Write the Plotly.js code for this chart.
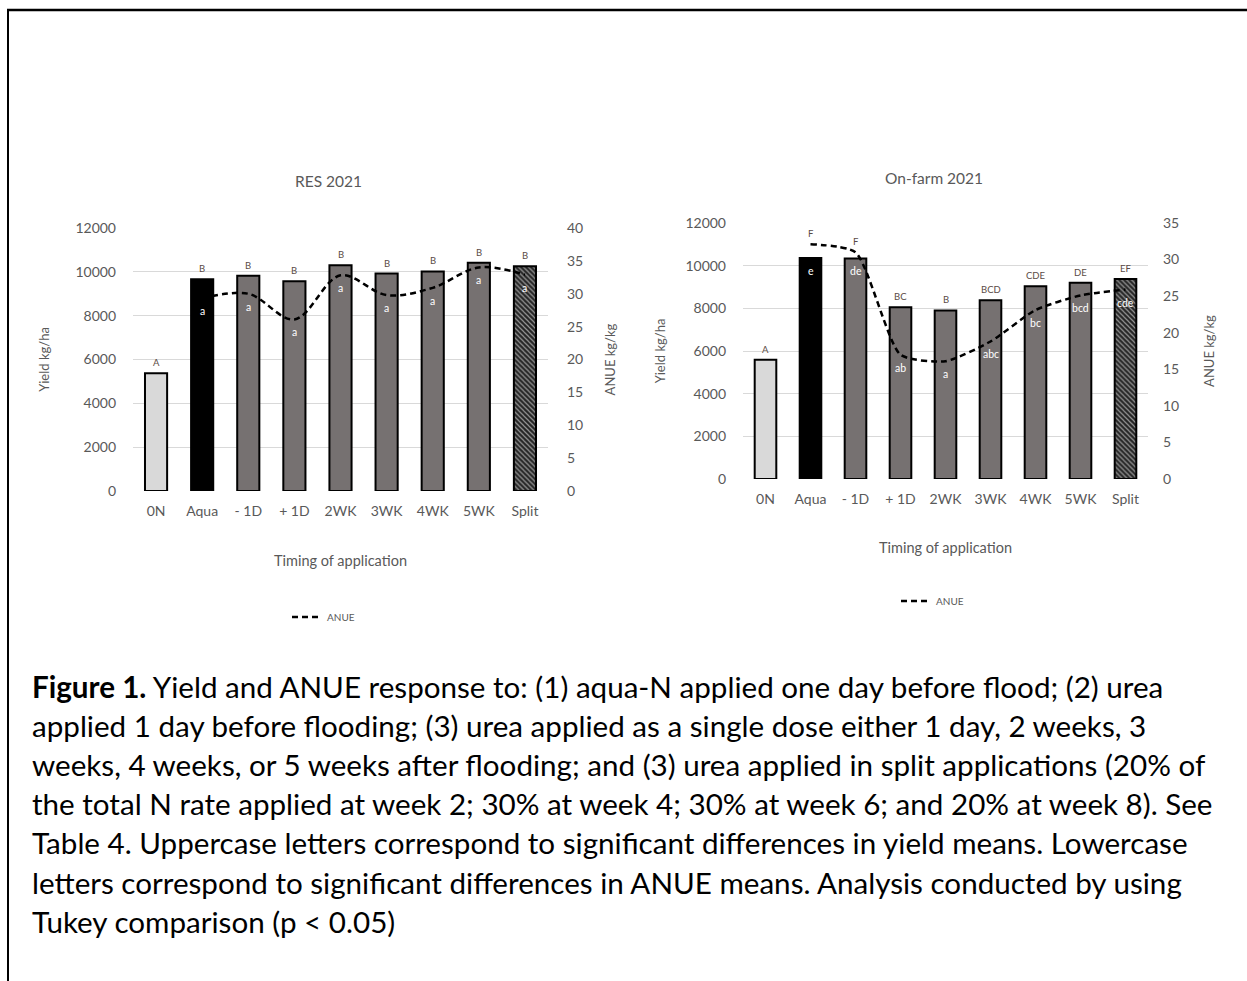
<!DOCTYPE html>
<html>
<head>
<meta charset="utf-8">
<script src="https://cdn.plot.ly/plotly-3.0.1.min.js"></script>
<style>
  html, body { margin: 0; padding: 0; background: #fff; }
  #chart { width: 1247px; height: 981px; }
</style>
</head>
<body>
<div id="chart"></div>
<script>
// ---------- data ----------
const categories = ['0N', 'Aqua', '- 1D', '+ 1D', '2WK', '3WK', '4WK', '5WK', 'Split'];

const resYield = [5370, 9660, 9820, 9570, 10300, 9920, 10020, 10410, 10260];
const resAnue = [null, 29.3, 30.0, 26.1, 32.8, 29.8, 30.9, 34.0, 32.9];
const resYieldLetters = ['A', 'B', 'B', 'B', 'B', 'B', 'B', 'B', 'B'];
const resAnueLetters = ['', 'a', 'a', 'a', 'a', 'a', 'a', 'a', 'a'];

const farmYield = [5590, 10360, 10340, 8050, 7900, 8380, 9030, 9200, 9380];
const farmAnue = [null, 32.1, 31.0, 17.0, 16.1, 18.8, 23.1, 25.1, 25.9];
const farmYieldLetters = ['A', 'F', 'F', 'BC', 'B', 'BCD', 'CDE', 'DE', 'EF'];
const farmAnueLetters = ['', 'e', 'de', 'ab', 'a', 'abc', 'bc', 'bcd', 'cde'];

const yieldTicks = [0, 2000, 4000, 6000, 8000, 10000, 12000];
const resAnueTicks = [0, 5, 10, 15, 20, 25, 30, 35, 40];
const farmAnueTicks = [0, 5, 10, 15, 20, 25, 30, 35];

const captionLines = [
  '<b>Figure 1.</b> Yield and ANUE response to: (1) aqua-N applied one day before flood; (2) urea',
  'applied 1 day before flooding; (3) urea applied as a single dose either 1 day, 2 weeks, 3',
  'weeks, 4 weeks, or 5 weeks after flooding; and (3) urea applied in split applications (20% of',
  'the total N rate applied at week 2; 30% at week 4; 30% at week 6; and 20% at week 8). See',
  'Table 4. Uppercase letters correspond to significant differences in yield means. Lowercase',
  'letters correspond to significant differences in ANUE means. Analysis conducted by using',
  'Tukey comparison (p < 0.05)'
];

// ---------- styling ----------
const W = 1247, H = 981;
const FONT = 'Lato, "Open Sans", sans-serif';
const GRAY = '#595959';
const barColors = ['#d9d9d9', '#000000', '#767171', '#767171', '#767171', '#767171', '#767171', '#767171', '#262626'];
const barPatterns = ['', '', '', '', '', '', '', '', '\\'];

const px = v => v / W;
const py = v => 1 - v / H;

function barTrace(vals, xa, ya) {
  return {
    type: 'bar', x: categories, y: vals, xaxis: xa, yaxis: ya,
    marker: {
      color: barColors,
      line: { color: '#000', width: 2 },
      pattern: { shape: barPatterns, fillmode: 'overlay', fgcolor: '#8f8f8f', size: 3.5, solidity: 0.35 }
    },
    showlegend: false, hoverinfo: 'x+y'
  };
}
function lineTrace(vals, xa, ya, legend, smooth) {
  return {
    type: 'scatter', mode: 'lines', name: 'ANUE', x: categories, y: vals,
    xaxis: xa, yaxis: ya, legend: legend,
    line: { color: '#000', width: 2.5, dash: '6px,4px', shape: 'spline', smoothing: smooth },
    connectgaps: false
  };
}

const traces = [
  barTrace(resYield, 'x', 'y'),
  lineTrace(resAnue, 'x', 'y2', 'legend', 1.0),
  barTrace(farmYield, 'x2', 'y3'),
  lineTrace(farmAnue, 'x2', 'y4', 'legend2', 0.6)
];

// ---------- letter annotations ----------
const annotations = [];
function addLetters(yieldVals, anueVals, upper, lower, xref, yref, y2ref, anueMax) {
  categories.forEach((c, i) => {
    const lineEq = anueVals[i] == null ? 0 : anueVals[i] * 12000 / anueMax;
    annotations.push({
      x: c, y: Math.max(yieldVals[i], lineEq), xref: xref, yref: yref,
      text: upper[i], showarrow: false, yanchor: 'bottom', yshift: 3,
      font: { family: FONT, size: 9.5, color: '#5b4b45' }
    });
    if (lower[i]) {
      const barEq = yieldVals[i] * anueMax / 12000;
      annotations.push({
        x: c, y: Math.min(anueVals[i], barEq), xref: xref, yref: y2ref,
        text: lower[i], showarrow: false, yanchor: 'middle', yshift: -13,
        font: { family: FONT, size: 10.5, color: '#ffffff' }
      });
    }
  });
}
addLetters(resYield, resAnue, resYieldLetters, resAnueLetters, 'x', 'y', 'y2', 40);
addLetters(farmYield, farmAnue, farmYieldLetters, farmAnueLetters, 'x2', 'y3', 'y4', 35);

// chart titles
annotations.push({ text: 'RES 2021', x: px(328), y: py(181), xref: 'paper', yref: 'paper',
  xanchor: 'center', yanchor: 'middle',
  showarrow: false, font: { family: FONT, size: 15.5, color: GRAY } });
annotations.push({ text: 'On-farm 2021', x: px(934), y: py(178), xref: 'paper', yref: 'paper',
  xanchor: 'center', yanchor: 'middle',
  showarrow: false, font: { family: FONT, size: 15.5, color: GRAY } });

// caption
captionLines.forEach((t, i) => {
  annotations.push({ text: t, x: px(30), y: py(686 + i * 39.2), xref: 'paper', yref: 'paper',
    xanchor: 'left', yanchor: 'middle', showarrow: false, align: 'left',
    font: { family: FONT, size: 29.6, color: '#000' } });
});

// ---------- axes ----------
const tickFont = { family: FONT, size: 14, color: GRAY };
function catAxis(x0, x1, anchor, title, standoff) {
  return {
    domain: [px(x0), px(x1)], anchor: anchor, type: 'category',
    range: [-0.5, 8.5], showgrid: false, zeroline: false, showline: false,
    ticks: '', tickfont: tickFont, ticklabelstandoff: 10, automargin: false,
    title: { text: title, font: { family: FONT, size: 14.5, color: GRAY }, standoff: standoff },
    fixedrange: true
  };
}
function yieldAxis(y0, y1, anchor, standoff) {
  return {
    domain: [py(y1), py(y0)], anchor: anchor, range: [0, 12000],
    tickvals: yieldTicks, ticktext: yieldTicks.map(String),
    showgrid: true, gridcolor: '#d9d9d9', gridwidth: 1, zeroline: false, showline: false,
    ticks: '', tickfont: tickFont, ticklabelstandoff: 16, automargin: false,
    title: { text: 'Yield kg/ha', font: { family: FONT, size: 13, color: GRAY }, standoff: standoff },
    fixedrange: true
  };
}
function anueAxis(overlay, anchor, max, ticks, labelStandoff, standoff) {
  return {
    overlaying: overlay, anchor: anchor, side: 'right', range: [0, max],
    tickvals: ticks, ticktext: ticks.map(String),
    showgrid: false, zeroline: false, showline: false,
    ticks: '', tickfont: tickFont, ticklabelstandoff: labelStandoff, automargin: false,
    title: { text: 'ANUE kg/kg', font: { family: FONT, size: 13, color: GRAY }, standoff: standoff },
    fixedrange: true
  };
}

const layout = {
  width: W, height: H,
  margin: { l: 0, r: 0, t: 0, b: 0, pad: 0 },
  paper_bgcolor: '#fff', plot_bgcolor: 'rgba(0,0,0,0)',
  font: { family: FONT, color: GRAY },
  bargap: 0.52,
  xaxis: catAxis(133, 548, 'y', 'Timing of application', 37),
  yaxis: yieldAxis(228, 491, 'x', 22),
  yaxis2: anueAxis('y', 'x', 40, resAnueTicks, 18, 23),
  xaxis2: catAxis(743, 1148, 'y3', 'Timing of application', 36),
  yaxis3: yieldAxis(223, 479, 'x2', 16),
  yaxis4: anueAxis('y3', 'x2', 35, farmAnueTicks, 14, 26),
  legend: { x: px(287), y: py(617), xanchor: 'left', yanchor: 'middle',
    bgcolor: 'rgba(0,0,0,0)', font: { family: FONT, size: 10, color: GRAY }, itemwidth: 30 },
  legend2: { x: px(896), y: py(601), xanchor: 'left', yanchor: 'middle',
    bgcolor: 'rgba(0,0,0,0)', font: { family: FONT, size: 10, color: GRAY }, itemwidth: 30 },
  annotations: annotations,
  shapes: [
    { type: 'line', xref: 'paper', yref: 'paper', x0: px(7), x1: 1, y0: py(10), y1: py(10),
      line: { color: '#000', width: 2.5 } },
    { type: 'line', xref: 'paper', yref: 'paper', x0: px(8), x1: px(8), y0: py(10), y1: 0,
      line: { color: '#000', width: 2 } }
  ]
};

Plotly.newPlot('chart', traces, layout, { displayModeBar: false, staticPlot: true });
</script>
</body>
</html>
